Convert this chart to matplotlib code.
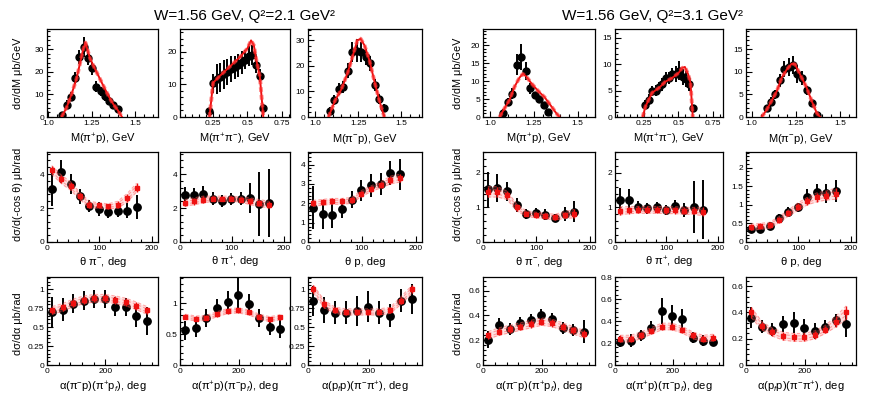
import numpy as np
import matplotlib
matplotlib.use('Agg')
import matplotlib.pyplot as plt
from matplotlib.ticker import MultipleLocator, FixedLocator, FuncFormatter

plt.rcParams['font.family'] = ['Liberation Sans', 'DejaVu Sans']
plt.rcParams['mathtext.fontset'] = 'custom'
plt.rcParams['mathtext.rm'] = 'Liberation Sans'
plt.rcParams['mathtext.it'] = 'Liberation Sans:italic'
plt.rcParams['mathtext.sf'] = 'Liberation Sans'
plt.rcParams['mathtext.bf'] = 'Liberation Sans:bold'

# ---------------- text ----------------
titles = ["W=1.56 GeV, Q²=2.1 GeV²", "W=1.56 GeV, Q²=3.1 GeV²"]
ylabels = ["dσ/dM μb/GeV", "dσ/d(-cos θ) μb/rad", "dσ/dα μb/rad"]
xlabels_mass = ["M(π$^{+}$p), GeV", "M(π$^{+}$π$^{-}$), GeV", "M(π$^{-}$p), GeV"]
xlabels_theta = ["θ π$^{-}$, deg", "θ π$^{+}$, deg", "θ p, deg"]
xlabels_alpha = ["α(π$^{-}$p)(π$^{+}$p$_{f}$), deg", "α(π$^{+}$p)(π$^{-}$p$_{f}$), deg",
                 "α(p$_{f}$p)(π$^{-}$π$^{+}$), deg"]
mass_ticks_p = [1.0, 1.25, 1.5]
mass_ticklabels_p = ["1.0", "1.25", "1.5"]
mass_ticks_pipi = [0.25, 0.5, 0.75]
mass_ticklabels_pipi = ["0.25", "0.5", "0.75"]

# ---------------- Q2 = 2.1 : invariant masses ----------------
L_mpip_x = [1.083, 1.107, 1.132, 1.156, 1.180, 1.205, 1.229, 1.253, 1.278, 1.302, 1.326, 1.350, 1.375, 1.399]
L_mpip_y = [0.8, 5.4, 9.0, 17.3, 26.5, 31.0, 26.0, 21.5, 13.5, 11.5, 9.2, 7.2, 5.1, 3.6]
L_mpip_e = [1.5, 2.0, 2.0, 2.5, 3.0, 4.5, 3.0, 3.0, 2.5, 2.0, 2.0, 1.5, 1.5, 1.2]
L_mpip_mx = [1.078, 1.106, 1.135, 1.164, 1.183, 1.202, 1.215, 1.241, 1.265, 1.289, 1.313, 1.337, 1.360, 1.376, 1.400, 1.424]
L_mpip_my = [0.0, 4.0, 10.0, 17.0, 23.5, 30.0, 33.0, 26.0, 22.0, 18.3, 14.5, 10.8, 7.5, 5.5, 3.0, 0.0]

L_mpipi_x = [0.228, 0.254, 0.280, 0.305, 0.331, 0.357, 0.383, 0.409, 0.434, 0.460, 0.486, 0.512, 0.537, 0.563, 0.589, 0.615]
L_mpipi_y = [1.9, 10.3, 11.7, 12.2, 13.1, 13.9, 14.7, 15.3, 15.9, 16.8, 17.6, 18.8, 19.0, 16.1, 12.7, 2.9]
L_mpipi_e = [1.0, 3.0, 4.5, 4.5, 4.5, 4.0, 4.0, 3.5, 3.5, 3.5, 3.0, 3.0, 3.0, 2.5, 2.0, 1.0]
L_mpipi_mx = [0.228, 0.254, 0.300, 0.350, 0.400, 0.450, 0.500, 0.527, 0.547, 0.567, 0.590, 0.605, 0.615]
L_mpipi_my = [0.0, 10.5, 12.5, 14.5, 16.5, 18.5, 21.0, 23.5, 22.0, 17.0, 12.5, 5.0, 0.0]

L_mpim_x = [1.085, 1.111, 1.137, 1.163, 1.189, 1.215, 1.241, 1.267, 1.293, 1.319, 1.345, 1.371, 1.398]
L_mpim_y = [2.5, 6.8, 11.0, 11.8, 18.2, 25.5, 26.0, 25.5, 23.5, 21.0, 12.5, 7.0, 3.5]
L_mpim_e = [1.5, 2.0, 2.5, 2.5, 3.0, 4.0, 4.5, 4.0, 3.0, 3.0, 2.5, 2.0, 1.5]
L_mpim_mx = [1.076, 1.114, 1.152, 1.190, 1.220, 1.244, 1.263, 1.286, 1.315, 1.344, 1.372, 1.401]
L_mpim_my = [0.0, 6.4, 11.0, 17.8, 24.6, 30.0, 30.7, 28.0, 22.0, 13.8, 6.4, 0.0]

# ---------------- Q2 = 3.1 : invariant masses ----------------
R_mpip_x = [1.076, 1.102, 1.128, 1.153, 1.179, 1.205, 1.230, 1.256, 1.282, 1.307, 1.333]
R_mpip_y = [1.1, 4.2, 6.5, 14.6, 16.7, 12.7, 8.0, 6.0, 4.9, 3.3, 1.4]
R_mpip_e = [1.0, 1.0, 1.5, 3.0, 3.5, 2.5, 1.5, 1.0, 1.0, 0.8, 0.6]
R_mpip_mx = [1.055, 1.084, 1.112, 1.141, 1.169, 1.188, 1.207, 1.236, 1.274, 1.312, 1.350, 1.378, 1.397]
R_mpip_my = [0.0, 2.5, 4.8, 8.5, 11.0, 12.0, 11.3, 9.4, 7.3, 5.5, 3.0, 1.1, 0.0]

R_mpipi_x = [0.260, 0.285, 0.309, 0.334, 0.358, 0.383, 0.407, 0.432, 0.457, 0.481, 0.506, 0.530, 0.555, 0.579, 0.604]
R_mpipi_y = [2.35, 3.3, 4.9, 5.0, 5.7, 6.2, 7.4, 7.4, 8.1, 8.1, 8.8, 7.6, 7.2, 6.2, 1.8]
R_mpipi_e = [0.8, 1.0, 1.0, 1.0, 1.0, 1.2, 1.2, 1.2, 1.2, 1.5, 1.8, 1.5, 1.5, 1.2, 0.5]
R_mpipi_mx = [0.240, 0.260, 0.308, 0.357, 0.405, 0.454, 0.503, 0.527, 0.547, 0.571, 0.588, 0.605]
R_mpipi_my = [0.0, 2.0, 4.6, 5.5, 6.7, 7.4, 8.4, 9.3, 9.5, 8.1, 6.5, 0.0]

R_mpim_x = [1.085, 1.109, 1.133, 1.158, 1.184, 1.209, 1.234, 1.258, 1.283, 1.311, 1.343, 1.372]
R_mpim_y = [1.9, 3.4, 5.0, 8.1, 10.7, 11.1, 11.5, 9.6, 8.7, 5.9, 3.0, 0.5]
R_mpim_e = [0.8, 1.0, 1.0, 1.5, 1.8, 2.0, 2.0, 2.0, 1.5, 1.0, 0.8, 0.5]
R_mpim_mx = [1.057, 1.085, 1.113, 1.142, 1.170, 1.198, 1.226, 1.245, 1.274, 1.311, 1.340, 1.368, 1.387]
R_mpim_my = [0.0, 1.6, 3.6, 5.7, 8.7, 10.5, 11.8, 11.7, 9.4, 6.5, 3.5, 0.9, 0.0]

# ---------------- angular bins ----------------
theta_x = [9, 27, 45, 63, 81, 99, 117, 135, 153, 171]
alpha_x = [18, 54, 90, 126, 162, 198, 234, 270, 306, 342]

# Q2 = 2.1 theta
L_thpim_y = [3.1, 4.15, 3.4, 2.7, 2.1, 1.95, 1.75, 1.85, 1.85, 2.05]
L_thpim_e = [1.0, 0.7, 0.6, 0.45, 0.35, 0.4, 0.35, 0.4, 0.45, 0.7]
L_thpim_m = [4.25, 3.7, 3.3, 2.7, 2.2, 2.15, 2.1, 2.2, 2.6, 3.2]
L_thpim_b = [0.25, 0.25, 0.25, 0.2, 0.2, 0.15, 0.15, 0.2, 0.25, 0.25]

L_thpip_y = [2.75, 2.75, 2.8, 2.55, 2.4, 2.55, 2.55, 2.6, 2.25, 2.3]
L_thpip_e = [0.5, 0.45, 0.5, 0.4, 0.35, 0.35, 0.4, 0.9, 1.9, 2.0]
L_thpip_m = [2.3, 2.4, 2.5, 2.55, 2.55, 2.55, 2.5, 2.4, 2.3, 2.2]
L_thpip_b = [0.2, 0.2, 0.2, 0.15, 0.15, 0.15, 0.15, 0.2, 0.2, 0.2]

L_thp_y = [1.78, 1.43, 1.38, 1.72, 2.19, 2.67, 2.93, 3.0, 3.57, 3.5]
L_thp_e = [1.1, 0.75, 0.65, 0.5, 0.45, 0.55, 0.6, 0.55, 0.6, 0.8]
L_thp_m = [2.0, 2.05, 2.1, 2.1, 2.15, 2.5, 2.75, 2.95, 3.2, 3.3]
L_thp_b = [0.15, 0.15, 0.15, 0.15, 0.15, 0.15, 0.15, 0.15, 0.2, 0.2]

# Q2 = 3.1 theta
R_thpim_y = [1.52, 1.57, 1.46, 1.07, 0.81, 0.84, 0.79, 0.69, 0.81, 0.88]
R_thpim_e = [0.5, 0.4, 0.28, 0.2, 0.15, 0.15, 0.15, 0.12, 0.2, 0.3]
R_thpim_m = [1.45, 1.45, 1.35, 1.0, 0.82, 0.78, 0.75, 0.72, 0.78, 0.82]
R_thpim_b = [0.15, 0.15, 0.12, 0.1, 0.08, 0.08, 0.08, 0.08, 0.1, 0.12]

R_thpip_y = [1.22, 1.22, 1.02, 0.97, 1.0, 0.92, 1.03, 0.93, 1.02, 0.93]
R_thpip_e = [0.35, 0.3, 0.17, 0.17, 0.17, 0.15, 0.17, 0.2, 0.75, 0.85]
R_thpip_m = [0.9, 0.92, 0.93, 0.93, 0.93, 0.92, 0.92, 0.9, 0.9, 0.88]
R_thpip_b = [0.12, 0.1, 0.1, 0.1, 0.1, 0.1, 0.1, 0.1, 0.1, 0.12]

R_thp_y = [0.36, 0.34, 0.43, 0.64, 0.81, 0.94, 1.22, 1.34, 1.31, 1.37]
R_thp_e = [0.1, 0.1, 0.1, 0.1, 0.12, 0.12, 0.2, 0.22, 0.25, 0.3]
R_thp_m = [0.4, 0.42, 0.45, 0.6, 0.78, 0.95, 1.1, 1.2, 1.25, 1.3]
R_thp_b = [0.08, 0.08, 0.08, 0.08, 0.08, 0.1, 0.1, 0.12, 0.12, 0.15]

# Q2 = 2.1 alpha
L_a1_y = [0.70, 0.73, 0.81, 0.85, 0.87, 0.87, 0.77, 0.76, 0.65, 0.58]
L_a1_e = [0.2, 0.15, 0.12, 0.12, 0.12, 0.12, 0.12, 0.12, 0.15, 0.18]
L_a1_m = [0.72, 0.76, 0.82, 0.86, 0.88, 0.88, 0.86, 0.83, 0.78, 0.72]
L_a1_b = [0.05, 0.05, 0.05, 0.05, 0.05, 0.05, 0.05, 0.05, 0.05, 0.05]

L_a2_y = [0.56, 0.60, 0.76, 0.92, 1.02, 1.13, 0.99, 0.76, 0.61, 0.58]
L_a2_e = [0.15, 0.15, 0.15, 0.15, 0.18, 0.28, 0.15, 0.15, 0.12, 0.15]
L_a2_m = [0.78, 0.75, 0.76, 0.82, 0.87, 0.88, 0.85, 0.78, 0.74, 0.77]
L_a2_b = [0.04, 0.04, 0.04, 0.04, 0.04, 0.04, 0.04, 0.04, 0.04, 0.04]

L_a3_y = [0.84, 0.73, 0.69, 0.69, 0.71, 0.77, 0.69, 0.65, 0.85, 0.87]
L_a3_e = [0.2, 0.17, 0.15, 0.15, 0.2, 0.2, 0.15, 0.15, 0.15, 0.2]
L_a3_m = [1.0, 0.8, 0.72, 0.70, 0.70, 0.70, 0.70, 0.72, 0.85, 1.0]
L_a3_b = [0.05, 0.05, 0.04, 0.04, 0.04, 0.04, 0.04, 0.04, 0.05, 0.05]

# Q2 = 3.1 alpha
R_a1_y = [0.205, 0.32, 0.29, 0.34, 0.36, 0.40, 0.37, 0.30, 0.28, 0.27]
R_a1_e = [0.07, 0.06, 0.05, 0.05, 0.05, 0.05, 0.05, 0.05, 0.05, 0.09]
R_a1_m = [0.24, 0.27, 0.29, 0.31, 0.33, 0.35, 0.34, 0.31, 0.28, 0.25]
R_a1_b = [0.03, 0.03, 0.03, 0.03, 0.03, 0.03, 0.03, 0.03, 0.03, 0.03]

R_a2_y = [0.21, 0.22, 0.27, 0.34, 0.49, 0.445, 0.42, 0.25, 0.22, 0.21]
R_a2_e = [0.05, 0.06, 0.05, 0.06, 0.12, 0.1, 0.09, 0.05, 0.05, 0.04]
R_a2_m = [0.24, 0.24, 0.27, 0.31, 0.35, 0.35, 0.32, 0.27, 0.24, 0.25]
R_a2_b = [0.03, 0.03, 0.03, 0.03, 0.03, 0.03, 0.03, 0.03, 0.03, 0.03]

R_a3_y = [0.36, 0.29, 0.27, 0.31, 0.32, 0.28, 0.26, 0.29, 0.34, 0.31]
R_a3_e = [0.08, 0.05, 0.05, 0.06, 0.08, 0.07, 0.06, 0.05, 0.05, 0.1]
R_a3_m = [0.40, 0.30, 0.25, 0.22, 0.21, 0.21, 0.23, 0.27, 0.33, 0.40]
R_a3_b = [0.04, 0.03, 0.03, 0.03, 0.03, 0.03, 0.03, 0.03, 0.04, 0.05]

# ---------------- layout ----------------
W, H = 877, 397
fig = plt.figure(figsize=(W / 100, H / 100), dpi=100)
col_edges = [[(47, 158), (180, 290), (308, 422)], [(483, 595), (615, 723), (746, 856)]]
row_edges = [(29, 117), (152, 242), (277, 365)]
xlabel_y = [139, 262, 387]
ylabel_x = [18, 458]
ylabel_yc = [73, 194, 324]
title_xc = [245, 652]

def add_ax(c, r):
    x0, x1 = c
    y0, y1 = r
    return fig.add_axes([x0 / W, 1 - y1 / H, (x1 - x0) / W, (y1 - y0) / H])

fmt_g = FuncFormatter(lambda v, p: "%g" % round(v, 4))

def style(ax, xlim, ylim, ymaj, ymin, xmaj=None, xmin=None, xt=None, xtl=None):
    ax.set_xlim(*xlim)
    ax.set_ylim(*ylim)
    if xt is not None:
        ax.xaxis.set_major_locator(FixedLocator(xt))
        ax.set_xticklabels(xtl)
    else:
        ax.xaxis.set_major_locator(MultipleLocator(xmaj))
        ax.xaxis.set_major_formatter(fmt_g)
    ax.xaxis.set_minor_locator(MultipleLocator(xmin))
    ax.yaxis.set_major_locator(MultipleLocator(ymaj))
    ax.yaxis.set_minor_locator(MultipleLocator(ymin))
    ax.yaxis.set_major_formatter(fmt_g)
    ax.tick_params(which='both', direction='in', top=False, right=False, labelsize=6, pad=2, width=0.8)
    ax.tick_params(which='major', length=4)
    ax.tick_params(which='minor', length=2.2)
    for s in ax.spines.values():
        s.set_linewidth(0.9)

def draw_mass(ax, x, y, e, mx, my):
    ax.errorbar(x, y, yerr=e, fmt='o', color='black', ms=5, lw=1.4, capsize=0, zorder=3)
    ax.plot(mx, my, color='#ee1111', lw=1.4, zorder=4)
    ax.plot(mx, my, color='#ff3333', lw=2.8, ls=(0, (1.2, 0.8)), alpha=0.6, zorder=4)

def draw_ang(ax, x, y, e, m, b):
    m = np.asarray(m); b = np.asarray(b)
    ax.errorbar(x, y, yerr=e, fmt='o', color='black', ms=5.3, lw=1.4, capsize=0, zorder=3)
    ax.fill_between(x, m - b, m + b, color='#ff8080', alpha=0.22, lw=0, zorder=4)
    for k in (-1.0, -0.4, 0.4, 1.0):
        ax.plot(x, m + k * b, color='#ff5555', lw=0.8, ls=(0, (3, 2)), alpha=0.5, zorder=4)
    ax.errorbar(x, m, yerr=b, fmt='s', color='#ee1111', ms=2.3, lw=1.0, capsize=0, zorder=5)

mass_sets = [
    [(L_mpip_x, L_mpip_y, L_mpip_e, L_mpip_mx, L_mpip_my),
     (L_mpipi_x, L_mpipi_y, L_mpipi_e, L_mpipi_mx, L_mpipi_my),
     (L_mpim_x, L_mpim_y, L_mpim_e, L_mpim_mx, L_mpim_my)],
    [(R_mpip_x, R_mpip_y, R_mpip_e, R_mpip_mx, R_mpip_my),
     (R_mpipi_x, R_mpipi_y, R_mpipi_e, R_mpipi_mx, R_mpipi_my),
     (R_mpim_x, R_mpim_y, R_mpim_e, R_mpim_mx, R_mpim_my)],
]
theta_sets = [
    [(L_thpim_y, L_thpim_e, L_thpim_m, L_thpim_b), (L_thpip_y, L_thpip_e, L_thpip_m, L_thpip_b),
     (L_thp_y, L_thp_e, L_thp_m, L_thp_b)],
    [(R_thpim_y, R_thpim_e, R_thpim_m, R_thpim_b), (R_thpip_y, R_thpip_e, R_thpip_m, R_thpip_b),
     (R_thp_y, R_thp_e, R_thp_m, R_thp_b)],
]
alpha_sets = [
    [(L_a1_y, L_a1_e, L_a1_m, L_a1_b), (L_a2_y, L_a2_e, L_a2_m, L_a2_b), (L_a3_y, L_a3_e, L_a3_m, L_a3_b)],
    [(R_a1_y, R_a1_e, R_a1_m, R_a1_b), (R_a2_y, R_a2_e, R_a2_m, R_a2_b), (R_a3_y, R_a3_e, R_a3_m, R_a3_b)],
]

# axis settings: (xlim, ylim, ymaj, ymin)
mass_lims = [
    [((0.995, 1.63), (0, 39), 10, 2), ((0.016, 0.807), (0, 27), 10, 2), ((0.957, 1.62), (0, 34.5), 10, 2)],
    [((0.96, 1.60), (0, 24.5), 5, 1), ((0.038, 0.825), (0, 16.7), 5, 1), ((0.968, 1.59), (0, 19.5), 5, 1)],
]
theta_lims = [
    [((0, 212), (0, 5.3), 2, 0.4), ((0, 212), (0, 5.3), 2, 0.4), ((0, 212), (0, 4.65), 1, 0.2)],
    [((0, 210), (0, 2.6), 1, 0.2), ((0, 210), (0, 2.6), 1, 0.2), ((0, 210), (0, 2.42), 0.5, 0.1)],
]
alpha_lims = [
    [((0, 380), (0, 1.16), 0.25, 0.05), ((0, 375), (0, 1.42), 0.5, 0.1), ((0, 375), (0, 1.16), 0.25, 0.05)],
    [((0, 380), (0, 0.71), 0.2, 0.04), ((0, 375), (0, 0.80), 0.2, 0.04), ((0, 375), (0, 0.67), 0.2, 0.04)],
]

for g in range(2):
    fig.text(title_xc[g] / W, 1 - 16 / H, titles[g], ha='center', va='center', fontsize=11)
    for r in range(3):
        fig.text(ylabel_x[g] / W, 1 - ylabel_yc[r] / H, ylabels[r], rotation=90,
                 ha='center', va='center', fontsize=7.8)
    for c in range(3):
        cx = (col_edges[g][c][0] + col_edges[g][c][1]) / 2 / W
        # row 1: masses
        ax = add_ax(col_edges[g][c], row_edges[0])
        x, y, e, mx, my = mass_sets[g][c]
        draw_mass(ax, x, y, e, mx, my)
        xl, yl, ymaj, ymin = mass_lims[g][c]
        if c == 1:
            style(ax, xl, yl, ymaj, ymin, xmin=0.05, xt=mass_ticks_pipi, xtl=mass_ticklabels_pipi)
        else:
            style(ax, xl, yl, ymaj, ymin, xmin=0.05, xt=mass_ticks_p, xtl=mass_ticklabels_p)
        fig.text(cx, 1 - xlabel_y[0] / H, xlabels_mass[c], ha='center', va='center', fontsize=8)
        # row 2: theta
        ax = add_ax(col_edges[g][c], row_edges[1])
        y, e, m, b = theta_sets[g][c]
        draw_ang(ax, theta_x, y, e, m, b)
        xl, yl, ymaj, ymin = theta_lims[g][c]
        style(ax, xl, yl, ymaj, ymin, xmaj=100, xmin=20)
        fig.text(cx, 1 - xlabel_y[1] / H, xlabels_theta[c], ha='center', va='center', fontsize=8)
        # row 3: alpha
        ax = add_ax(col_edges[g][c], row_edges[2])
        y, e, m, b = alpha_sets[g][c]
        draw_ang(ax, alpha_x, y, e, m, b)
        xl, yl, ymaj, ymin = alpha_lims[g][c]
        style(ax, xl, yl, ymaj, ymin, xmaj=200, xmin=40)
        fig.text(cx, 1 - xlabel_y[2] / H, xlabels_alpha[c], ha='center', va='center', fontsize=8)

fig.savefig('out.png', dpi=100)
